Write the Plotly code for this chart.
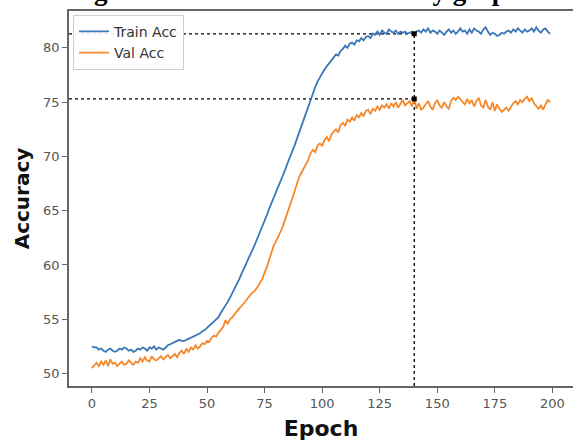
import plotly.graph_objects as go

epochs = list(range(200))

train_acc = [
    52.5, 52.4, 52.4, 52.2, 52.3, 52.1, 52.0, 52.2, 52.3, 52.1,
    52.0, 52.1, 52.3, 52.2, 52.4, 52.3, 52.1, 52.2, 52.0, 52.1,
    52.3, 52.2, 52.4, 52.3, 52.1, 52.4, 52.3, 52.5, 52.2, 52.4,
    52.3, 52.2, 52.4, 52.6, 52.7, 52.8, 52.9, 53.0, 53.1, 53.0,
    53.0, 53.1, 53.2, 53.3, 53.4, 53.5, 53.6, 53.7, 53.9, 54.0,
    54.2, 54.4, 54.6, 54.8, 55.0, 55.2, 55.6, 55.9, 56.3, 56.6,
    57.0, 57.4, 57.8, 58.3, 58.7, 59.2, 59.6, 60.1, 60.6, 61.0,
    61.5, 62.0, 62.5, 63.1, 63.6, 64.1, 64.6, 65.2, 65.7, 66.2,
    66.7, 67.2, 67.7, 68.3, 68.8, 69.4, 69.9, 70.5, 71.0, 71.6,
    72.2, 72.8, 73.5, 74.1, 74.8, 75.4, 75.9, 76.4, 76.9, 77.3,
    77.7, 78.0, 78.3, 78.6, 78.9, 79.2, 79.4, 79.3, 79.7, 79.9,
    80.2, 80.0, 80.4, 80.5, 80.3, 80.7, 80.6, 80.9, 80.7, 81.0,
    81.1, 80.9, 81.3, 81.2, 81.5, 81.2, 81.6, 81.4, 81.3, 81.7,
    81.5, 81.4, 81.6, 81.3, 81.5, 81.4, 81.5, 81.3, 81.4, 81.5,
    81.3, 81.5, 81.6, 81.4, 81.7, 81.5, 81.8, 81.4, 81.6, 81.5,
    81.3, 81.6, 81.4, 81.2, 81.5, 81.7, 81.4, 81.6, 81.3, 81.5,
    81.8, 81.5, 81.6, 81.3, 81.7, 81.4, 81.8, 81.6, 81.5, 81.3,
    81.7, 81.9, 81.5, 81.2, 81.4, 81.3, 81.1, 81.2, 81.4, 81.3,
    81.5, 81.6, 81.4, 81.7, 81.5, 81.8, 81.6, 81.4, 81.7, 81.5,
    81.6, 81.8, 81.5, 81.9, 81.6, 81.4, 81.7, 81.8, 81.5, 81.3,
]

val_acc = [
    50.5, 50.8, 51.0, 50.7, 51.1, 50.8, 51.2, 50.7, 51.3, 50.9,
    51.0, 50.7, 50.9, 51.1, 50.8, 50.9, 51.2, 51.0, 50.8, 51.1,
    51.0, 51.4, 51.1, 51.5, 51.2, 51.1, 51.6, 51.3, 51.2, 51.4,
    51.6, 51.3, 51.5, 51.7, 51.4, 51.6, 51.8, 51.5, 51.9, 52.1,
    51.8, 52.3, 52.0, 52.4, 52.2, 52.6, 52.3, 52.5, 52.8, 52.7,
    53.0, 52.9, 53.3, 53.5, 53.4, 53.8, 54.0, 54.3, 54.9, 54.6,
    55.0, 55.2, 55.5, 55.7, 56.0, 56.2, 56.5, 56.8, 57.0, 57.3,
    57.5, 57.7, 58.0, 58.3, 58.7, 59.3, 59.8, 60.5, 61.2, 61.8,
    62.2, 62.6, 63.1, 63.6, 64.3, 64.9, 65.5, 66.1, 66.8, 67.4,
    68.1, 68.5, 68.9, 69.2, 69.7, 70.3, 70.6, 70.4, 71.0, 71.2,
    71.0, 71.5, 71.8, 71.4, 72.0, 72.3, 72.5, 72.2, 72.9, 73.1,
    72.8, 73.4, 73.2, 73.6, 73.3, 73.8, 73.6, 74.0, 73.7, 74.2,
    74.3, 73.9, 74.4, 74.2, 74.6, 74.3, 74.7, 74.5, 74.8, 74.4,
    74.9, 74.6, 75.0, 74.5, 74.8, 75.2, 74.7, 74.9, 75.1, 74.6,
    75.3, 74.4, 74.9, 74.3, 74.5, 74.8, 75.1, 74.6, 74.3, 74.9,
    75.2, 74.7, 74.5, 75.0, 74.6, 74.4, 75.1, 75.4, 75.2, 75.5,
    75.3, 75.0, 74.8, 75.3, 74.9, 75.2, 74.6, 75.1, 75.4, 74.7,
    74.5, 75.2, 74.6, 74.3, 75.0, 74.2, 74.8, 74.4, 74.1, 74.3,
    74.5, 74.2, 74.6, 74.9, 75.1, 74.8, 75.2, 75.0, 75.3, 75.5,
    75.1, 75.4, 74.9, 74.6, 74.4, 74.7, 74.3, 74.8, 75.2, 75.0,
]

mark_epoch = 140
x_ticks = [0, 25, 50, 75, 100, 125, 150, 175, 200]
y_ticks = [50, 55, 60, 65, 70, 75, 80]
caption = "Figure 6: Plastic model accuracy graph"

x_range = [-9.95, 208.95]
y_range = [48.85, 83.4]

train_mark = train_acc[mark_epoch]
val_mark = val_acc[mark_epoch]

fig = go.Figure()

dot_style = dict(color="black", width=1.3, dash="dot")
for yv in (train_mark, val_mark):
    fig.add_trace(go.Scatter(x=[x_range[0], mark_epoch], y=[yv, yv], mode="lines",
                             line=dot_style, showlegend=False, hoverinfo="skip"))
fig.add_trace(go.Scatter(x=[mark_epoch, mark_epoch], y=[y_range[0], train_mark], mode="lines",
                         line=dot_style, showlegend=False, hoverinfo="skip"))

fig.add_trace(go.Scatter(x=epochs, y=train_acc, mode="lines", name="Train Acc",
                         line=dict(color="#3a76b8", width=1.8)))
fig.add_trace(go.Scatter(x=epochs, y=val_acc, mode="lines", name="Val Acc",
                         line=dict(color="#f5882a", width=1.8)))

fig.add_trace(go.Scatter(x=[mark_epoch, mark_epoch], y=[train_mark, val_mark], mode="markers",
                         marker=dict(symbol="square", size=5, color="black"),
                         showlegend=False, hoverinfo="skip"))

axis_common = dict(
    showgrid=False, zeroline=False, showline=True, mirror=True, automargin=False,
    linecolor="#666", linewidth=1.5,
    ticks="outside", ticklen=5, tickcolor="#666", tickwidth=1,
    tickfont=dict(family="DejaVu Sans", size=13, color="#555"),
)

fig.update_layout(
    width=573, height=447,
    margin=dict(l=69, r=0, t=11, b=61, autoexpand=False),
    paper_bgcolor="white", plot_bgcolor="white",
    xaxis=dict(range=x_range, tickvals=x_ticks,
               title=dict(text="<b>Epoch</b>", standoff=10,
                          font=dict(family="DejaVu Sans", size=22, color="#111")),
               **axis_common),
    yaxis=dict(range=y_range, tickvals=y_ticks,
               title=dict(text="<b>Accuracy</b>", standoff=8,
                          font=dict(family="DejaVu Sans", size=20, color="#111")),
               **axis_common),
    legend=dict(x=0.008, y=0.99, xanchor="left", yanchor="top",
                bgcolor="rgba(255,255,255,0.9)", bordercolor="#d0d0d0", borderwidth=1,
                font=dict(family="DejaVu Sans", size=14, color="#333"),
                tracegroupgap=0, itemwidth=30),
    annotations=[dict(text="<b>" + caption + "</b>", xref="paper", yref="paper",
                      x=0.45, y=1, xanchor="center", yanchor="bottom", yshift=3,
                      showarrow=False,
                      font=dict(family="Liberation Serif", size=27, color="black"))],
)

fig.write_html("out.html", config={"displayModeBar": False},
               post_script="document.body.style.margin='0px';document.body.style.overflow='hidden';")
